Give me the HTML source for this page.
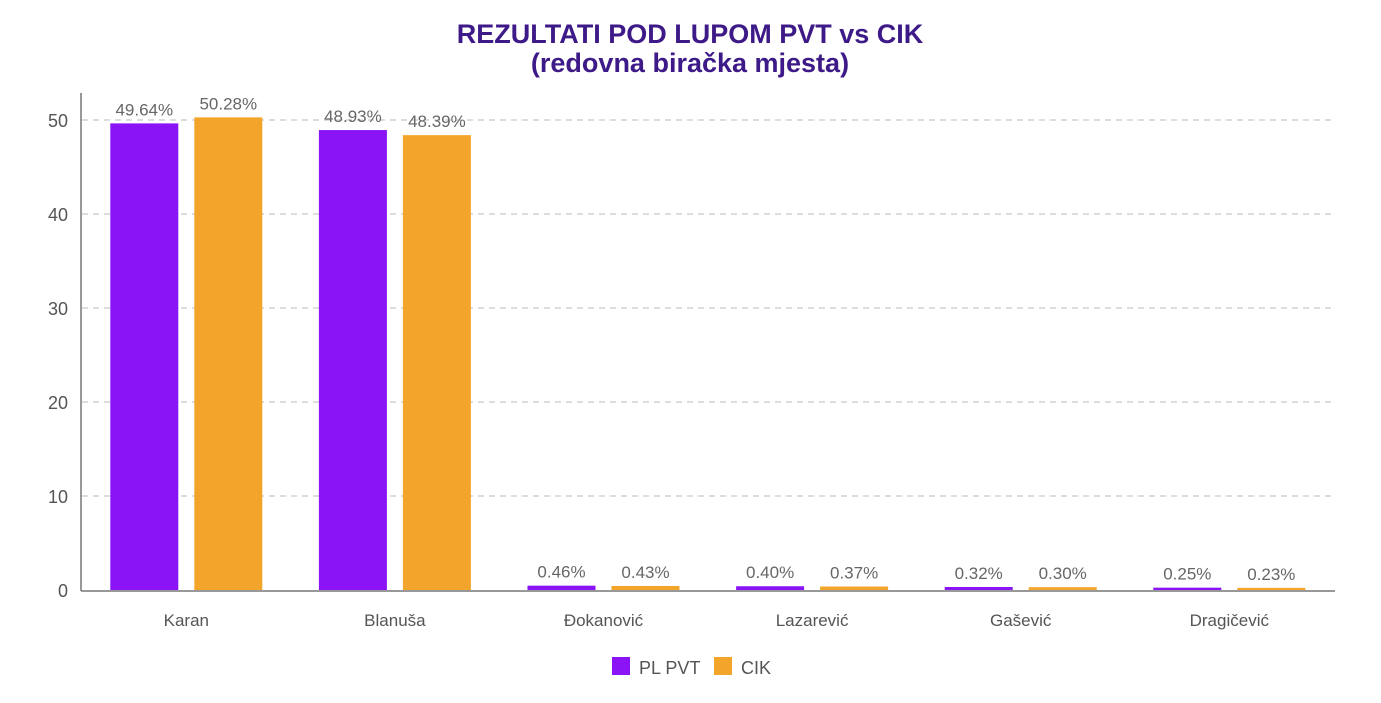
<!DOCTYPE html>
<html><head><meta charset="utf-8"><style>
html,body{margin:0;padding:0;background:#fff;width:1381px;height:703px;overflow:hidden;font-family:"Liberation Sans",sans-serif}
</style></head><body>
<svg id="chart" width="1381" height="703" xmlns="http://www.w3.org/2000/svg">
<text x="690" y="43" text-anchor="middle" font-size="27" font-weight="bold" fill="#3d1a87">REZULTATI POD LUPOM PVT vs CIK</text>
<text x="690" y="72" text-anchor="middle" font-size="27" font-weight="bold" fill="#3d1a87">(redovna biračka mjesta)</text>
<g id="grid"></g><g id="bars"></g><g id="labels"></g>
<line x1="81" y1="93" x2="81" y2="591" stroke="#777" stroke-width="1.5"/>
<line x1="81" y1="591" x2="1335" y2="591" stroke="#777" stroke-width="1.5"/>
<g>
<rect x="612" y="657" width="18" height="18" fill="#8b14f7"/>
<text x="639" y="674" font-size="18" fill="#555">PL PVT</text>
<rect x="714" y="657" width="18" height="18" fill="#f2a52a"/>
<text x="741" y="674" font-size="18" fill="#555">CIK</text>
</g>
</svg>
<script>
const categories=["Karan","Blanuša","Đokanović","Lazarević","Gašević","Dragičević"];
const pvtValues=[49.64,48.93,0.46,0.40,0.32,0.25];
const cikValues=[50.28,48.39,0.43,0.37,0.30,0.23];
const yTicks=[0,10,20,30,40,50];
const NS="http://www.w3.org/2000/svg";
const y=v=>590-v*9.4;
const bandStart=82,band=208.6;
const cx=i=>bandStart+band*(i+0.5);
function mk(tag,attrs,parent){const e=document.createElementNS(NS,tag);for(const k in attrs)e.setAttribute(k,attrs[k]);document.getElementById(parent).appendChild(e);return e;}
yTicks.forEach(t=>{
  if(t>0){const l=mk('line',{x1:82,x2:1335,y1:y(t),y2:y(t),stroke:'#bbb','stroke-dasharray':'6,5','stroke-width':1},'grid');
  
  }
  const tx=mk('text',{x:68,y:y(t)+7,'text-anchor':'end','font-size':18,fill:'#555'},'labels');tx.textContent=t;
  
  
});
categories.forEach((c,i)=>{
  const sets=[[pvtValues[i],'#8b14f7',-76,'pvt'],[cikValues[i],'#f2a52a',8,'cik']];
  sets.forEach(([v,col,off,s])=>{
    const x0=cx(i)+off;
    const r=mk('rect',{x:x0,y:y(v),width:68,height:590-y(v),fill:col},'bars');
    
    
    const t=mk('text',{x:x0+34,y:y(v)-8,'text-anchor':'middle','font-size':17,fill:'#666'},'labels');
    t.textContent=v.toFixed(2)+'%';
    
    
  });
  const lt=mk('text',{x:cx(i),y:626,'text-anchor':'middle','font-size':17,fill:'#555'},'labels');
  lt.textContent=c;
  
  
});
</script>
</body></html>
